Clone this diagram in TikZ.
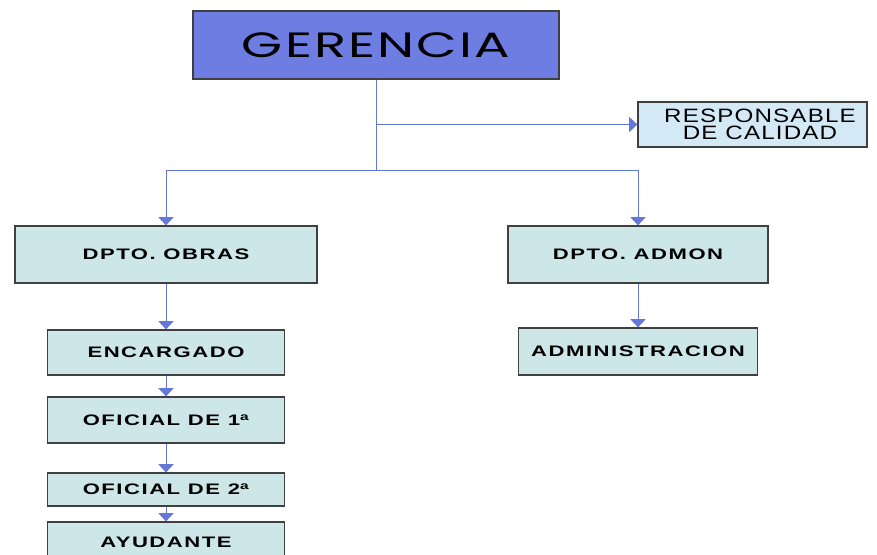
\documentclass[tikz,border=0pt]{standalone}
\usepackage{fontspec}
\setmainfont{Liberation Sans}
\newfontfamily\topfont[FakeStretch=1.5,LetterSpace=6]{Poppins}
\newfontfamily\unitfont[FakeStretch=1.45,LetterSpace=10]{Liberation Sans}
\newfontfamily\qualfont[FakeStretch=1.25,LetterSpace=6]{Liberation Sans}
\usetikzlibrary{arrows.meta}

\definecolor{topblue}{RGB}{110,125,225}
\definecolor{unitcyan}{RGB}{205,231,233}
\definecolor{qualblue}{RGB}{212,233,246}
\definecolor{linkblue}{RGB}{100,120,215}

\begin{document}
\begin{tikzpicture}[x=0.03cm, y=-0.03cm, >={Triangle[width=13pt,length=7pt]},
  every unit/.style={draw=black!75, line width=1.1pt, fill=unitcyan, inner sep=0pt,
    font=\unitfont\bfseries\fontsize{13}{14}\selectfont},
  link/.style={draw=linkblue, line width=0.8pt}]

\useasboundingbox (0,0) rectangle (877,554);

% top level
\node [every unit, fill=topblue, minimum width=10.98cm, minimum height=2.04cm,
  font=\topfont\fontsize{30}{32}\selectfont] (gerencia) at (376,45) {GERENCIA};

\node [every unit, fill=qualblue, minimum width=6.87cm, minimum height=1.35cm, align=center,
  font=\qualfont\fontsize{16.5}{15}\selectfont] (calidad) at (752.5,124.5)
  {\hspace{0.45cm}RESPONSABLE\\\hspace{0.45cm}DE CALIDAD};

% departments
\node [every unit, minimum width=9.06cm, minimum height=1.71cm] (obras) at (166,254.5) {DPTO. OBRAS};
\node [every unit, minimum width=7.8cm, minimum height=1.71cm] (admon) at (638,254.5) {DPTO. ADMON};
\node [every unit, minimum width=7.17cm, minimum height=1.41cm] (admin) at (638,351.5) {ADMINISTRACION};

% obras chain
\foreach \name/\txt/\y/\h in {encargado/ENCARGADO/352.5/1.35,
    oficial-1/OFICIAL DE 1\textsuperscript{a}/420/1.38,
    oficial-2/OFICIAL DE 2\textsuperscript{a}/489.5/0.99,
    ayudante/AYUDANTE/542/1.2}
  \node [every unit, minimum width=7.11cm, minimum height=\h cm] (\name) at (166,\y) {\txt};

\coordinate (split) at (gerencia.south |- 0,170);
\coordinate (qual-branch) at (gerencia.south |- calidad.west);

\draw [link] (gerencia) -- (split);
\draw [link, ->] (qual-branch) -- (calidad);
\draw [link, ->] (split) -| (obras);
\draw [link, ->] (split) -| (admon);
\draw [link, ->] (admon) -- (admin);

\foreach \a/\b in {obras/encargado, encargado/oficial-1, oficial-1/oficial-2, oficial-2/ayudante}
  \draw [link, ->] (\a) -- (\b);

\end{tikzpicture}
\end{document}
